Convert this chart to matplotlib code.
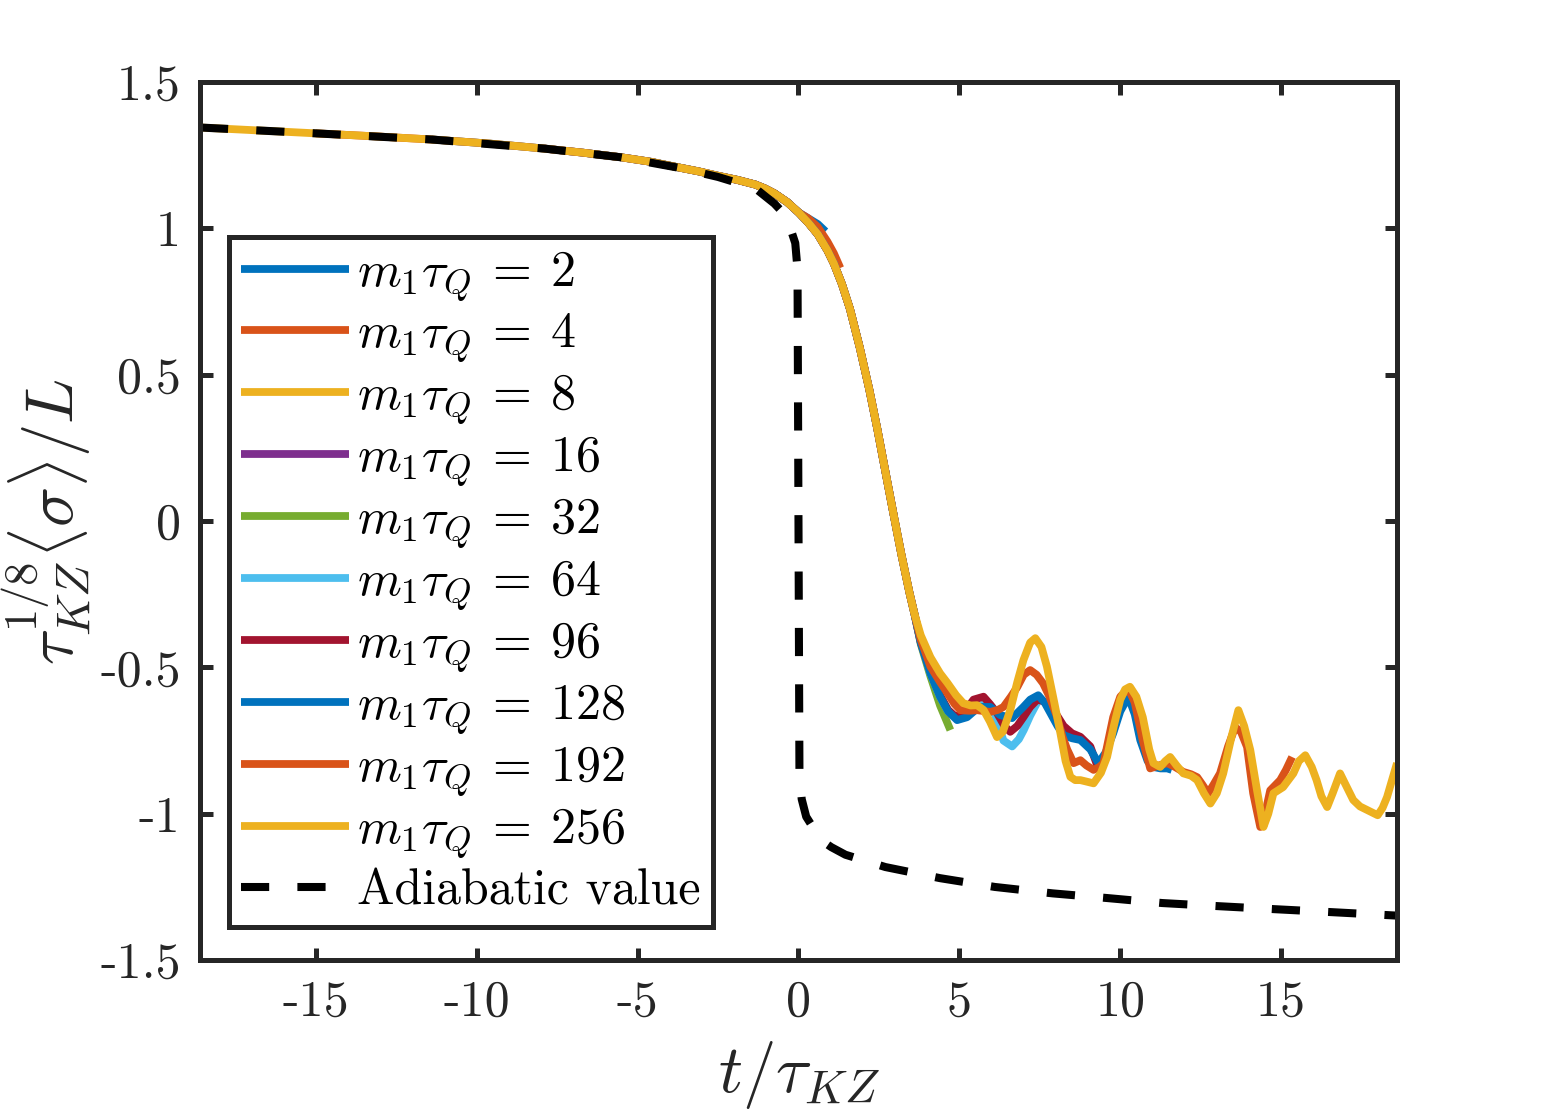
import numpy as np
import matplotlib
matplotlib.use("Agg")
import matplotlib.pyplot as plt

plt.rcParams['mathtext.fontset'] = 'cm'
plt.rcParams['font.family'] = ['cmr10', 'DejaVu Serif']
plt.rcParams['axes.unicode_minus'] = False
plt.rcParams['axes.formatter.use_mathtext'] = True

# --- data ---
m_values = [2, 4, 8, 16, 32, 64, 96, 128, 192, 256]
colors = ['#0072BD', '#D95319', '#EDB120', '#7E2F8E', '#77AC30',
          '#4DBEEE', '#A2142F', '#0072BD', '#D95319', '#EDB120']
t_end = [0.84, 1.3, 1.9, 3.0, 4.72, 7.5, 9.3, 11.6, 15.34, 18.6]

# part shared by all runs (before they split)
common_t = [-18.6, -16.8, -15.0, -13.2, -11.4, -9.6, -7.9, -6.7, -5.5, -4.6, -3.7,
            -3.1, -2.5, -1.9, -1.34, -1.05, -0.75, -0.35, 0.0, 0.3, 0.6, 0.9, 1.1,
            1.35, 1.6, 1.9, 2.2, 2.45, 2.7, 2.96, 3.2, 3.45, 3.6]
common_y = [1.345, 1.335, 1.325, 1.315, 1.304, 1.29, 1.273, 1.259, 1.243, 1.228, 1.208,
            1.195, 1.18, 1.166, 1.15, 1.137, 1.12, 1.09, 1.055, 1.02, 0.98, 0.925, 0.88,
            0.81, 0.725, 0.595, 0.45, 0.315, 0.17, 0.02, -0.115, -0.245, -0.315]

# individual branches (start where they leave the common curve)
tail_t = {
    2: [0.0, 0.3, 0.6, 0.84],
    4: [0.0, 0.3, 0.6, 0.9, 1.1, 1.3],
    32: [3.6, 3.8, 4.1, 4.4, 4.72],
    64: [3.6, 3.8, 4.1, 4.4, 4.65, 4.93, 5.2, 5.5, 5.86, 6.1, 6.37, 6.64, 6.85,
         7.0, 7.2, 7.42, 7.5],
    96: [3.6, 3.8, 4.1, 4.4, 4.65, 4.9, 5.2, 5.44, 5.75, 5.95, 6.17, 6.4, 6.58,
         6.8, 6.99, 7.2, 7.42, 7.6, 7.83, 8.04, 8.24, 8.5, 8.76, 9.07, 9.3],
    128: [3.6, 3.8, 4.1, 4.4, 4.65, 4.93, 5.24, 5.45, 5.65, 5.96, 6.27, 6.64, 6.99,
          7.2, 7.45, 7.65, 7.83, 8.05, 8.24, 8.5, 8.76, 9.07, 9.32, 9.55, 9.78,
          10.0, 10.25, 10.45, 10.62, 10.85, 11.03, 11.25, 11.46, 11.6],
    192: [3.6, 3.8, 4.1, 4.4, 4.63, 4.85, 5.03, 5.3, 5.55, 5.96, 6.2, 6.37, 6.6,
          6.8, 7.0, 7.2, 7.4, 7.6, 7.8, 8.04, 8.2, 8.35, 8.55, 8.76, 8.95, 9.17,
          9.35, 9.48, 9.78, 10.0, 10.25, 10.45, 10.7, 10.93, 11.2, 11.46, 11.7,
          11.96, 12.2, 12.39, 12.55, 12.73, 12.9, 13.1, 13.35, 13.57, 13.75, 13.94,
          14.13, 14.35, 14.5, 14.66, 14.97, 15.15, 15.34],
    256: [3.6, 3.8, 4.1, 4.4, 4.63, 4.9, 5.12, 5.35, 5.55, 5.75, 5.95, 6.17, 6.35,
          6.58, 6.8, 6.99, 7.2, 7.36, 7.55, 7.72, 7.95, 8.14, 8.3, 8.45, 8.6, 8.76,
          8.95, 9.17, 9.4, 9.59, 9.8, 10.0, 10.15, 10.3, 10.5, 10.7, 10.9, 11.03,
          11.24, 11.4, 11.55, 11.75, 11.96, 12.2, 12.39, 12.6, 12.8, 13.0, 13.2,
          13.45, 13.67, 13.85, 14.04, 14.25, 14.45, 14.6, 14.76, 15.06, 15.38,
          15.55, 15.75, 15.95, 16.1, 16.25, 16.43, 16.6, 16.83, 17.0, 17.24, 17.45,
          17.67, 18.0, 18.15, 18.29, 18.6],
}
tail_y = {
    2: [1.055, 1.035, 1.015, 0.99],
    4: [1.055, 1.035, 1.005, 0.955, 0.915, 0.865],
    32: [-0.315, -0.42, -0.53, -0.63, -0.714],
    64: [-0.315, -0.415, -0.52, -0.6, -0.65, -0.675, -0.665, -0.64, -0.62, -0.66,
         -0.75, -0.77, -0.745, -0.714, -0.665, -0.62, -0.605],
    96: [-0.315, -0.415, -0.515, -0.595, -0.645, -0.67, -0.645, -0.61, -0.60, -0.625,
         -0.656, -0.70, -0.72, -0.70, -0.67, -0.635, -0.61, -0.615, -0.635, -0.665,
         -0.70, -0.725, -0.737, -0.77, -0.84],
    128: [-0.315, -0.415, -0.52, -0.6, -0.65, -0.68, -0.67, -0.65, -0.635, -0.635,
          -0.663, -0.673, -0.635, -0.61, -0.595, -0.62, -0.656, -0.70, -0.731,
          -0.742, -0.748, -0.78, -0.827, -0.79, -0.725, -0.65, -0.60, -0.66, -0.748,
          -0.82, -0.84, -0.845, -0.845, -0.85],
    192: [-0.315, -0.405, -0.497, -0.55, -0.588, -0.625, -0.646, -0.648, -0.646,
          -0.652, -0.645, -0.635, -0.6, -0.567, -0.525, -0.509, -0.525, -0.554,
          -0.6, -0.67, -0.735, -0.78, -0.827, -0.817, -0.835, -0.85, -0.84, -0.827,
          -0.67, -0.6, -0.572, -0.62, -0.75, -0.845, -0.835, -0.827, -0.84, -0.857,
          -0.865, -0.875, -0.9, -0.93, -0.9, -0.862, -0.77, -0.704, -0.72, -0.772,
          -0.93, -1.045, -1.0, -0.92, -0.885, -0.85, -0.806],
    256: [-0.315, -0.39, -0.465, -0.52, -0.553, -0.595, -0.622, -0.63, -0.629,
          -0.645, -0.685, -0.738, -0.72, -0.646, -0.55, -0.475, -0.415, -0.40,
          -0.43, -0.497, -0.62, -0.725, -0.82, -0.874, -0.885, -0.885, -0.89,
          -0.896, -0.86, -0.806, -0.7, -0.61, -0.575, -0.566, -0.6, -0.67, -0.78,
          -0.827, -0.84, -0.82, -0.806, -0.835, -0.862, -0.87, -0.885, -0.93,
          -0.965, -0.93, -0.862, -0.74, -0.646, -0.70, -0.782, -0.92, -1.045, -1.0,
          -0.93, -0.909, -0.862, -0.82, -0.80, -0.84, -0.885, -0.94, -0.977, -0.93,
          -0.862, -0.9, -0.953, -0.975, -0.987, -1.005, -0.98, -0.943, -0.827],
}

# adiabatic value
adiab_t = [-18.6, -15.0, -11.4, -7.9, -5.5, -3.7, -2.5, -1.34, -0.75, -0.45, -0.25,
           -0.1, -0.03, 0.0, 0.03, 0.1, 0.24, 0.7, 1.02, 1.46, 2.7, 4.4, 6.1, 7.9,
           9.6, 11.3, 13.1, 14.8, 16.55, 18.6]
adiab_y = [1.345, 1.325, 1.304, 1.273, 1.243, 1.207, 1.176, 1.137, 1.085, 1.05, 1.0,
           0.95, 0.86, 0.0, -0.86, -0.95, -1.01, -1.09, -1.114, -1.14, -1.182, -1.22,
           -1.25, -1.272, -1.288, -1.305, -1.316, -1.326, -1.336, -1.348]

xticks = [-15, -10, -5, 0, 5, 10, 15]
xticklabels = ['-15', '-10', '-5', '0', '5', '10', '15']
yticks = [-1.5, -1, -0.5, 0, 0.5, 1, 1.5]
yticklabels = ['-1.5', '-1', '-0.5', '0', '0.5', '1', '1.5']

fig = plt.figure(figsize=(7.72, 5.595), dpi=200)
ax = fig.add_axes([0.1295, 0.142, 0.7753, 0.7846])

ct = np.array(common_t)
cy = np.array(common_y)
for m, c, te in zip(m_values, colors, t_end):
    if m in tail_t:
        keep = (ct >= -te) & (ct < tail_t[m][0])
        tt = np.concatenate([ct[keep], tail_t[m]])
        yy = np.concatenate([cy[keep], tail_y[m]])
    else:
        keep = (ct >= -te) & (ct <= te)
        tt, yy = ct[keep], cy[keep]
    ax.plot(tt, yy, color=c, lw=2.8, solid_capstyle='butt', solid_joinstyle='round',
            label=r'$m_1\tau_Q\:=\:%d$' % m)

ax.plot(adiab_t, adiab_y, color='k', lw=2.9, dashes=(3.5, 3.5),
        label='Adiabatic value')

ax.set_xlim(-18.6, 18.6)
ax.set_ylim(-1.5, 1.5)
ax.set_xticks(xticks)
ax.set_xticklabels(xticklabels)
ax.set_yticks(yticks)
ax.set_yticklabels(yticklabels)
ax.tick_params(direction='in', length=4.5, width=1.8, top=True, right=True,
               labelsize=18, colors='#262626', pad=7)
for s in ax.spines.values():
    s.set_linewidth(1.8)
    s.set_color('#262626')

ax.set_xlabel(r'$t/\tau_{KZ}$', fontsize=24, color='#262626', labelpad=5)
ax.set_ylabel(r'$\tau_{KZ}^{1/8}\langle\sigma\rangle/L$', fontsize=24,
              color='#262626', labelpad=2)

leg = ax.legend(loc='upper left', bbox_to_anchor=(0.0242, 0.8235), borderaxespad=0,
                fontsize=18, handlelength=2.15, handletextpad=0.16,
                labelspacing=0.15, borderpad=0.25, fancybox=False, framealpha=1,
                edgecolor='#262626')
leg.get_frame().set_linewidth(1.8)

fig.savefig('out.png', dpi=200)
